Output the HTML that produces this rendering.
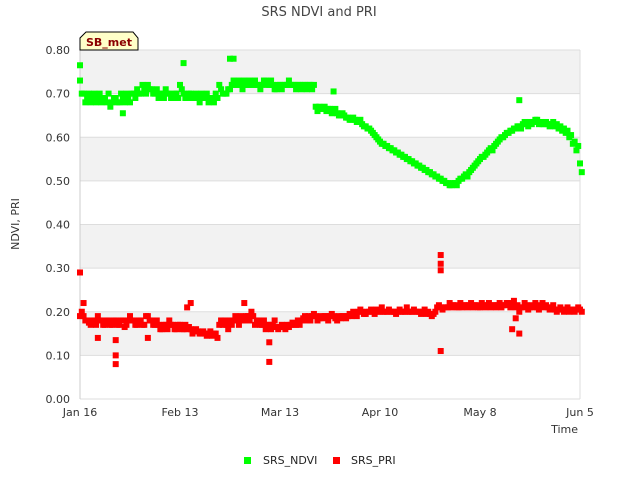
<!DOCTYPE html>
<html><head><meta charset="utf-8"><style>
body{margin:0;background:#fff;font-family:"Liberation Sans",sans-serif}
</style></head><body>
<svg id="c" width="640" height="480" font-family="DejaVu Sans, Liberation Sans, sans-serif">
<text x="319" y="16" text-anchor="middle" font-size="13" fill="#444">SRS NDVI and PRI</text>
<text x="19" y="224" text-anchor="middle" font-size="11" fill="#333" transform="rotate(-90 19 224)">NDVI, PRI</text>
<text x="578" y="433" text-anchor="end" font-size="11" fill="#333">Time</text>
<g id="bands"></g><g id="grid"></g><g id="ticks"></g><g id="marks"></g>
<g>
<path d="M80 50 L80 38 L86 32 L133 32 L138 38 L138 50 Z" fill="#ffffc8" stroke="#000"/>
<text x="109" y="46" text-anchor="middle" font-size="11" font-weight="bold" fill="#8b0000">SB_met</text></g>
<g>
<rect x="244" y="457" width="7" height="7" fill="#00ff00"/>
<text x="263" y="464" font-size="11" fill="#222">SRS_NDVI</text>
<rect x="333" y="457" width="7" height="7" fill="#ff0000"/>
<text x="351" y="464" font-size="11" fill="#222">SRS_PRI</text></g>
</svg>
<script>
const yTicks=[0,0.1,0.2,0.3,0.4,0.5,0.6,0.7,0.8];
const bandStarts=[0.1,0.3,0.5,0.7];
const xTickDays=[0,28,56,84,112,140];
const xTickLabels=["Jan 16","Feb 13","Mar 13","Apr 10","May 8","Jun 5"];
const ndvi=[.73,.70,.69,.68,.70,.69,.68,.69,.70,.68,.69,.68,.69,.70,.68,.70,.71,.70,.71,.72,.71,.70,.69,.70,.71,.70,.69,.70,.72,.70,.69,.70,.69,.69,.70,.69,.68,.69,.70,.72,.70,.70,.71,.73,.72,.72,.73,.72,.72,.73,.72,.72,.73,.72,.72,.71,.72,.72,.72,.72,.72,.72,.71,.72,.72,.71,.67,.67,.665,.66,.665,.66,.655,.65,.65,.645,.64,.64,.635,.63,.625,.62,.61,.60,.59,.585,.58,.575,.57,.565,.56,.555,.55,.545,.54,.535,.53,.525,.52,.515,.51,.505,.50,.495,.49,.495,.50,.505,.515,.52,.53,.54,.55,.555,.565,.575,.58,.59,.60,.605,.61,.615,.62,.625,.63,.63,.635,.635,.64,.635,.63,.63,.63,.625,.62,.615,.61,.60,.585,.57,.54];
const ndvi2=[.70,.68,.70,.69,.68,.70,.69,.68,.67,.69,.68,.70,.68,.69,.70,.69,.70,.72,.70,.71,.70,.71,.70,.69,.70,.69,.70,.69,.71,.69,.70,.69,.70,.68,.69,.70,.69,.68,.69,.71,.70,.71,.72,.72,.73,.71,.72,.73,.72,.72,.71,.73,.72,.73,.71,.72,.71,.72,.73,.72,.71,.72,.72,.71,.72,.72,.66,.665,.67,.665,.655,.665,.65,.655,.645,.64,.645,.635,.64,.625,.62,.615,.605,.595,.585,.58,.575,.57,.565,.56,.555,.55,.545,.54,.535,.53,.525,.52,.515,.51,.505,.50,.495,.49,.495,.49,.505,.51,.51,.525,.535,.545,.555,.56,.57,.57,.585,.595,.60,.61,.615,.62,.625,.62,.635,.625,.63,.64,.63,.63,.635,.625,.635,.63,.625,.62,.615,.605,.59,.58,.52];
const pri=[.19,.19,.18,.17,.18,.19,.18,.17,.18,.17,.18,.17,.18,.17,.19,.18,.17,.18,.17,.19,.18,.17,.17,.16,.17,.18,.17,.16,.17,.16,.16,.16,.155,.155,.15,.15,.15,.145,.15,.17,.17,.17,.18,.18,.18,.19,.18,.19,.20,.17,.18,.17,.16,.17,.17,.165,.165,.165,.17,.17,.17,.18,.18,.19,.19,.19,.19,.185,.185,.19,.19,.19,.18,.185,.19,.19,.19,.195,.20,.20,.195,.20,.20,.205,.20,.20,.20,.20,.20,.20,.20,.20,.20,.20,.20,.20,.20,.195,.195,.195,.21,.21,.21,.21,.21,.215,.21,.21,.215,.215,.21,.215,.21,.215,.215,.21,.215,.215,.21,.215,.22,.215,.21,.20,.21,.215,.21,.21,.21,.215,.21,.21,.21,.205,.205,.205,.205,.20,.205,.205,.205];
const pri2=[.20,.18,.175,.18,.17,.18,.17,.18,.17,.18,.17,.18,.165,.18,.18,.17,.18,.17,.19,.18,.17,.18,.16,.17,.16,.17,.16,.17,.16,.17,.165,.15,.16,.15,.155,.145,.155,.15,.14,.18,.18,.16,.17,.19,.17,.18,.19,.18,.19,.18,.17,.18,.17,.16,.18,.16,.17,.16,.165,.175,.17,.17,.185,.18,.18,.195,.18,.19,.19,.18,.195,.185,.19,.19,.185,.195,.20,.19,.205,.195,.20,.205,.195,.20,.21,.20,.205,.20,.195,.205,.20,.21,.20,.205,.20,.195,.205,.20,.19,.20,.215,.205,.21,.22,.215,.21,.22,.215,.21,.22,.215,.21,.22,.21,.22,.215,.21,.22,.215,.22,.21,.225,.215,.21,.22,.205,.215,.22,.205,.22,.215,.205,.215,.20,.21,.20,.21,.205,.20,.21,.20];
const ndviExtraDays=[0,12,29,42,43,71,123];
const ndviExtraVals=[.765,.655,.77,.78,.78,.705,.685];
const priExtraDays=[0,1,5,10,10,10,19,30,31,46,53,53,101,101,101,101,121,123,122];
const priExtraVals=[.29,.22,.14,.10,.08,.135,.14,.21,.22,.22,.13,.085,.33,.31,.295,.11,.16,.15,.185];
const X0=80,X1=580,Y0=399,Y1=50;
const xs=d=>X0+d*(X1-X0)/140, ys=v=>Y0-v*(Y0-Y1)/0.8;
const NS="http://www.w3.org/2000/svg";
function mk(t,p,a){const e=document.createElementNS(NS,t);for(const k in a)e.setAttribute(k,a[k]);document.getElementById(p).appendChild(e);return e;}
bandStarts.forEach(b=>{const r=mk('rect','bands',{x:X0,y:ys(b+0.1),width:X1-X0,height:ys(b)-ys(b+0.1),fill:'#f2f2f2'});

});
yTicks.forEach(v=>{const l=mk('line','grid',{x1:X0,x2:X1,y1:ys(v),y2:ys(v),stroke:'#ddd'});


const t=mk('text','ticks',{x:70,y:ys(v)+4,'text-anchor':'end','font-size':'11',fill:'#333'});t.textContent=v.toFixed(2);

});
mk('line','grid',{x1:X0,x2:X0,y1:Y1,y2:Y0,stroke:'#ccc'});mk('line','grid',{x1:X1,x2:X1,y1:Y1,y2:Y0,stroke:'#ddd'});
xTickDays.forEach((d,i)=>{const t=mk('text','ticks',{x:xs(d),y:416,'text-anchor':'middle','font-size':'11',fill:'#333'});t.textContent=xTickLabels[i];

});
function pt(d,v,c,n){const r=mk('rect','marks',{x:xs(d)-3,y:ys(v)-3,width:6,height:6,fill:c});

}
ndvi.forEach((v,d)=>pt(d,v,'#00ff00','ndvi-point'));
ndvi2.forEach((v,d)=>pt(d+0.5,v,'#00ff00','ndvi-point'));
ndviExtraDays.forEach((d,i)=>pt(d,ndviExtraVals[i],'#00ff00','ndvi-point'));
pri.forEach((v,d)=>pt(d,v,'#ff0000','pri-point'));
pri2.forEach((v,d)=>pt(d+0.5,v,'#ff0000','pri-point'));
priExtraDays.forEach((d,i)=>pt(d,priExtraVals[i],'#ff0000','pri-point'));
</script>
</body></html>
